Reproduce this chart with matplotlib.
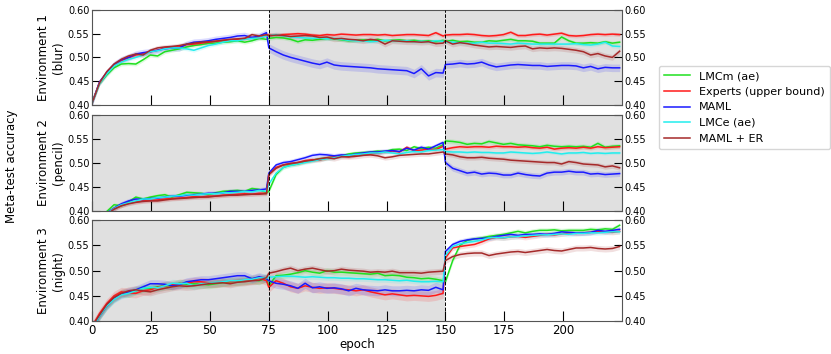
import matplotlib
matplotlib.use("Agg")
import matplotlib.pyplot as plt
import numpy as np

# evaluation epochs: 25 points per 75-epoch phase
seg_len = 25
phase_starts = [0, 75, 150]

series_names = ['LMCm (ae)', 'Experts (upper bound)', 'MAML', 'LMCe (ae)', 'MAML + ER']
series_colors = ['#1fe01f', '#ff1a1a', '#1a1aff', '#22eeee', '#a52a2a']

env_labels = ['Environment 1\n(blur)', 'Environment 2\n(pencil)', 'Environment 3\n(night)']

# ---- Environment 1 (blur) ----
env1_lmcm = [0.405, 0.445, 0.463, 0.478, 0.486, 0.487, 0.486, 0.495, 0.505, 0.503, 0.512, 0.515, 0.518, 0.522, 0.525, 0.527, 0.53, 0.53, 0.532, 0.533, 0.535, 0.532, 0.535, 0.54, 0.538,
             0.54, 0.542, 0.541, 0.538, 0.533, 0.537, 0.536, 0.538, 0.54, 0.539, 0.537, 0.535, 0.536, 0.537, 0.536, 0.538, 0.535, 0.536, 0.537, 0.535, 0.536, 0.534, 0.535, 0.533, 0.536,
             0.534, 0.536, 0.533, 0.534, 0.532, 0.532, 0.535, 0.534, 0.536, 0.538, 0.535, 0.535, 0.534, 0.53, 0.53, 0.53, 0.543, 0.535, 0.53, 0.53, 0.531, 0.53, 0.533, 0.53, 0.532]
env1_expert = [0.405, 0.448, 0.467, 0.483, 0.493, 0.499, 0.505, 0.508, 0.512, 0.515, 0.52, 0.522, 0.522, 0.527, 0.528, 0.53, 0.532, 0.534, 0.536, 0.537, 0.538, 0.54, 0.542, 0.541, 0.546,
               0.548, 0.547, 0.548, 0.549, 0.55, 0.549, 0.547, 0.546, 0.548, 0.547, 0.549, 0.548, 0.547, 0.548, 0.548, 0.547, 0.548, 0.546, 0.547, 0.548, 0.548, 0.547, 0.546, 0.552, 0.545,
               0.547, 0.548, 0.548, 0.549, 0.548, 0.546, 0.545, 0.546, 0.548, 0.553, 0.546, 0.546, 0.548, 0.549, 0.547, 0.549, 0.551, 0.546, 0.545, 0.546, 0.548, 0.549, 0.548, 0.549, 0.548]
env1_maml = [0.405, 0.448, 0.468, 0.485, 0.495, 0.5, 0.507, 0.51, 0.512, 0.515, 0.518, 0.52, 0.52, 0.528, 0.532, 0.533, 0.535, 0.538, 0.54, 0.542, 0.545, 0.546, 0.542, 0.545, 0.552,
             0.52, 0.512, 0.505, 0.5, 0.496, 0.492, 0.488, 0.485, 0.49, 0.484, 0.482, 0.481, 0.48, 0.479, 0.478, 0.476, 0.475, 0.474, 0.473, 0.472, 0.466, 0.476, 0.461, 0.468, 0.467,
             0.485, 0.486, 0.488, 0.486, 0.487, 0.49, 0.484, 0.48, 0.482, 0.484, 0.485, 0.484, 0.483, 0.483, 0.481, 0.482, 0.483, 0.483, 0.482, 0.478, 0.481, 0.476, 0.479, 0.478, 0.478]
env1_lmce = [0.405, 0.445, 0.465, 0.482, 0.49, 0.496, 0.5, 0.505, 0.512, 0.514, 0.518, 0.52, 0.52, 0.518, 0.515, 0.52, 0.525, 0.528, 0.532, 0.535, 0.535, 0.538, 0.54, 0.541, 0.545,
             0.546, 0.548, 0.545, 0.543, 0.542, 0.541, 0.54, 0.541, 0.539, 0.54, 0.538, 0.536, 0.535, 0.535, 0.533, 0.534, 0.536, 0.535, 0.534, 0.535, 0.533, 0.534, 0.533, 0.535, 0.534,
             0.533, 0.532, 0.531, 0.53, 0.53, 0.532, 0.53, 0.53, 0.529, 0.528, 0.53, 0.529, 0.528, 0.528, 0.528, 0.528, 0.528, 0.528, 0.529, 0.527, 0.526, 0.528, 0.532, 0.524, 0.523]
env1_er = [0.405, 0.446, 0.47, 0.486, 0.496, 0.503, 0.507, 0.505, 0.515, 0.52, 0.522, 0.523, 0.525, 0.528, 0.53, 0.532, 0.533, 0.534, 0.536, 0.538, 0.539, 0.54, 0.548, 0.545, 0.548,
           0.545, 0.547, 0.546, 0.544, 0.545, 0.546, 0.545, 0.542, 0.543, 0.539, 0.54, 0.538, 0.537, 0.535, 0.538, 0.536, 0.528, 0.535, 0.534, 0.533, 0.533, 0.532, 0.533, 0.529, 0.53,
           0.535, 0.528, 0.531, 0.529, 0.526, 0.524, 0.522, 0.523, 0.522, 0.521, 0.523, 0.524, 0.518, 0.52, 0.519, 0.52, 0.519, 0.517, 0.515, 0.512, 0.505, 0.508, 0.503, 0.5, 0.513]

# ---- Environment 2 (pencil) ----
env2_lmcm = [0.37, 0.385, 0.398, 0.412, 0.41, 0.418, 0.428, 0.424, 0.428, 0.431, 0.433, 0.428, 0.433, 0.438, 0.437, 0.436, 0.433, 0.437, 0.44, 0.441, 0.442, 0.44, 0.446, 0.444, 0.437,
             0.44, 0.475, 0.49, 0.495, 0.497, 0.502, 0.505, 0.508, 0.51, 0.512, 0.514, 0.518, 0.52, 0.521, 0.522, 0.524, 0.523, 0.527, 0.528, 0.525, 0.533, 0.529, 0.532, 0.53, 0.537,
             0.545, 0.544, 0.542, 0.538, 0.54, 0.539, 0.544, 0.541, 0.538, 0.54, 0.537, 0.536, 0.535, 0.533, 0.536, 0.534, 0.533, 0.534, 0.533, 0.534, 0.532, 0.54, 0.532, 0.534, 0.535]
env2_expert = [0.365, 0.38, 0.393, 0.403, 0.41, 0.415, 0.418, 0.42, 0.421, 0.422, 0.424, 0.425, 0.426, 0.427, 0.429, 0.428, 0.43, 0.43, 0.432, 0.433, 0.434, 0.435, 0.434, 0.436, 0.436,
               0.475, 0.49, 0.495, 0.498, 0.5, 0.504, 0.506, 0.505, 0.51, 0.512, 0.514, 0.512, 0.516, 0.518, 0.518, 0.52, 0.522, 0.524, 0.522, 0.532, 0.525, 0.526, 0.528, 0.527, 0.534,
               0.528, 0.531, 0.533, 0.532, 0.533, 0.533, 0.532, 0.534, 0.533, 0.533, 0.532, 0.533, 0.531, 0.53, 0.532, 0.528, 0.53, 0.531, 0.53, 0.532, 0.53, 0.533, 0.531, 0.532, 0.533]
env2_maml = [0.37, 0.383, 0.395, 0.405, 0.414, 0.42, 0.424, 0.423, 0.425, 0.426, 0.428, 0.43, 0.43, 0.432, 0.433, 0.434, 0.436, 0.436, 0.437, 0.44, 0.44, 0.44, 0.442, 0.443, 0.445,
             0.478, 0.495, 0.5, 0.502, 0.506, 0.51, 0.515, 0.517, 0.516, 0.514, 0.516, 0.515, 0.518, 0.52, 0.522, 0.522, 0.524, 0.525, 0.523, 0.53, 0.526, 0.532, 0.528, 0.535, 0.542,
             0.5, 0.488, 0.483, 0.478, 0.48, 0.476, 0.478, 0.477, 0.474, 0.474, 0.478, 0.475, 0.473, 0.472, 0.478, 0.48, 0.48, 0.482, 0.48, 0.48, 0.476, 0.477, 0.475, 0.476, 0.477]
env2_lmce = [0.367, 0.382, 0.394, 0.404, 0.412, 0.416, 0.42, 0.424, 0.424, 0.427, 0.428, 0.43, 0.431, 0.433, 0.432, 0.434, 0.435, 0.435, 0.437, 0.437, 0.438, 0.44, 0.439, 0.442, 0.44,
             0.455, 0.478, 0.49, 0.494, 0.497, 0.5, 0.503, 0.506, 0.508, 0.51, 0.513, 0.515, 0.517, 0.518, 0.52, 0.52, 0.522, 0.52, 0.518, 0.521, 0.523, 0.522, 0.525, 0.526, 0.527,
             0.523, 0.522, 0.522, 0.521, 0.522, 0.521, 0.521, 0.52, 0.52, 0.522, 0.521, 0.52, 0.519, 0.52, 0.522, 0.52, 0.518, 0.52, 0.52, 0.521, 0.519, 0.52, 0.519, 0.52, 0.52]
env2_er = [0.365, 0.38, 0.392, 0.403, 0.41, 0.414, 0.417, 0.419, 0.42, 0.42, 0.422, 0.424, 0.425, 0.426, 0.427, 0.428, 0.428, 0.43, 0.431, 0.432, 0.432, 0.433, 0.434, 0.434, 0.435,
           0.475, 0.488, 0.495, 0.498, 0.5, 0.503, 0.505, 0.508, 0.51, 0.508, 0.512, 0.512, 0.513, 0.515, 0.516, 0.514, 0.51, 0.512, 0.515, 0.516, 0.517, 0.518, 0.518, 0.52, 0.522,
           0.518, 0.516, 0.512, 0.51, 0.51, 0.511, 0.509, 0.508, 0.507, 0.505, 0.504, 0.503, 0.502, 0.501, 0.5, 0.5, 0.497, 0.502, 0.5, 0.497, 0.496, 0.495, 0.491, 0.493, 0.489]

# ---- Environment 3 (night) ----
env3_lmcm = [0.385, 0.41, 0.43, 0.445, 0.455, 0.455, 0.46, 0.465, 0.465, 0.468, 0.47, 0.47, 0.475, 0.473, 0.474, 0.473, 0.472, 0.474, 0.476, 0.478, 0.478, 0.48, 0.482, 0.48, 0.485,
             0.47, 0.49, 0.491, 0.493, 0.496, 0.5, 0.497, 0.495, 0.5, 0.497, 0.497, 0.496, 0.495, 0.494, 0.493, 0.495, 0.49, 0.491, 0.49, 0.487, 0.486, 0.484, 0.485, 0.483, 0.48,
             0.478, 0.52, 0.55, 0.56, 0.563, 0.565, 0.568, 0.57, 0.572, 0.575, 0.578, 0.575, 0.578, 0.58, 0.58, 0.581, 0.579, 0.58, 0.58, 0.58, 0.582, 0.581, 0.583, 0.582, 0.59]
env3_expert = [0.39, 0.415, 0.435, 0.45, 0.458, 0.456, 0.455, 0.46, 0.462, 0.467, 0.47, 0.472, 0.474, 0.475, 0.478, 0.478, 0.476, 0.476, 0.478, 0.478, 0.48, 0.481, 0.482, 0.485, 0.48,
               0.467, 0.48, 0.475, 0.468, 0.465, 0.47, 0.467, 0.465, 0.466, 0.465, 0.463, 0.462, 0.46, 0.462, 0.458, 0.455, 0.452, 0.454, 0.452, 0.45, 0.451, 0.45, 0.449, 0.451, 0.455,
               0.525, 0.545, 0.548, 0.55, 0.552, 0.557, 0.563, 0.566, 0.565, 0.567, 0.568, 0.566, 0.568, 0.57, 0.572, 0.571, 0.573, 0.575, 0.574, 0.575, 0.576, 0.578, 0.577, 0.576, 0.578]
env3_maml = [0.385, 0.41, 0.43, 0.445, 0.453, 0.458, 0.462, 0.468, 0.474, 0.474, 0.473, 0.47, 0.472, 0.478, 0.48, 0.482, 0.482, 0.484, 0.486, 0.488, 0.49, 0.49, 0.484, 0.488, 0.484,
             0.48, 0.475, 0.473, 0.47, 0.465, 0.475, 0.466, 0.468, 0.465, 0.466, 0.464, 0.46, 0.465, 0.462, 0.461, 0.46, 0.462, 0.46, 0.46, 0.461, 0.46, 0.462, 0.461, 0.467, 0.462,
             0.538, 0.552, 0.558, 0.561, 0.563, 0.564, 0.565, 0.568, 0.57, 0.572, 0.57, 0.572, 0.572, 0.573, 0.572, 0.574, 0.577, 0.576, 0.575, 0.575, 0.576, 0.58, 0.578, 0.58, 0.582]
env3_lmce = [0.385, 0.41, 0.43, 0.443, 0.452, 0.455, 0.46, 0.465, 0.467, 0.466, 0.47, 0.475, 0.474, 0.475, 0.47, 0.474, 0.475, 0.477, 0.478, 0.48, 0.48, 0.482, 0.483, 0.486, 0.485,
             0.487, 0.488, 0.489, 0.489, 0.488, 0.487, 0.488, 0.487, 0.486, 0.486, 0.485, 0.485, 0.484, 0.484, 0.483, 0.482, 0.482, 0.481, 0.48, 0.481, 0.479, 0.478, 0.478, 0.479, 0.478,
             0.53, 0.548, 0.553, 0.556, 0.558, 0.561, 0.565, 0.566, 0.565, 0.567, 0.568, 0.569, 0.57, 0.571, 0.571, 0.572, 0.573, 0.572, 0.574, 0.574, 0.575, 0.575, 0.576, 0.577, 0.577]
env3_er = [0.39, 0.412, 0.433, 0.447, 0.455, 0.46, 0.462, 0.46, 0.458, 0.462, 0.465, 0.468, 0.47, 0.469, 0.47, 0.472, 0.474, 0.475, 0.476, 0.474, 0.477, 0.478, 0.48, 0.481, 0.486,
           0.495, 0.498, 0.502, 0.505, 0.5, 0.503, 0.505, 0.502, 0.499, 0.5, 0.503, 0.501, 0.5, 0.499, 0.497, 0.498, 0.497, 0.499, 0.496, 0.496, 0.496, 0.495, 0.497, 0.498, 0.499,
           0.52, 0.528, 0.532, 0.534, 0.535, 0.535, 0.53, 0.533, 0.535, 0.537, 0.538, 0.536, 0.538, 0.54, 0.542, 0.54, 0.539, 0.542, 0.545, 0.545, 0.546, 0.544, 0.543, 0.544, 0.548]

# std band half-width per phase (one value per 75-epoch phase)
env1_std = [[0.004, 0.004, 0.004], [0.004, 0.004, 0.004], [0.007, 0.009, 0.008], [0.004, 0.004, 0.004], [0.005, 0.006, 0.006]]
env2_std = [[0.004, 0.004, 0.005], [0.004, 0.004, 0.004], [0.005, 0.005, 0.006], [0.004, 0.004, 0.003], [0.004, 0.005, 0.005]]
env3_std = [[0.008, 0.006, 0.005], [0.009, 0.01, 0.005], [0.008, 0.01, 0.005], [0.008, 0.005, 0.005], [0.008, 0.006, 0.006]]

# which phases are shaded grey in each environment
env_shaded = [[False, True, True], [True, False, True], [True, True, False]]

envs = [
    [env1_lmcm, env1_expert, env1_maml, env1_lmce, env1_er],
    [env2_lmcm, env2_expert, env2_maml, env2_lmce, env2_er],
    [env3_lmcm, env3_expert, env3_maml, env3_lmce, env3_er],
]
env_stds = [env1_std, env2_std, env3_std]

epochs = np.concatenate([np.linspace(s, s + 74, seg_len) for s in phase_starts])

fig, axes = plt.subplots(3, 1, figsize=(8.31, 3.54), dpi=100, sharex=True,
                         gridspec_kw={'height_ratios': [97, 98, 103]})
fig.subplots_adjust(left=0.111, right=0.7485, top=0.972, bottom=0.093, hspace=0.1)

for i, ax in enumerate(axes):
    for p, s in enumerate(phase_starts):
        if env_shaded[i][p]:
            ax.axvspan(s, s + 75, color='#e0e0e0', lw=0, zorder=0)
    for vals, std, name, col in zip(envs[i], env_stds[i], series_names, series_colors):
        y = np.array(vals)
        sd = np.repeat(std, seg_len)
        ax.fill_between(epochs, y - sd, y + sd, color=col, alpha=0.15, lw=0, zorder=1)
        ax.plot(epochs, y, color=col, lw=1.1, label=name, zorder=2)
    for s in phase_starts[1:]:
        ax.axvline(s, color='black', ls='--', lw=0.7, zorder=3)
    ax.set_xlim(0, 225)
    ax.set_ylim(0.40, 0.60)
    ax.set_yticks([0.40, 0.45, 0.50, 0.55, 0.60])
    ax.set_xticks([0, 25, 50, 75, 100, 125, 150, 175, 200])
    ax.tick_params(direction='in', length=6, labelsize=7, right=True, labelright=True, pad=2)
    ax.tick_params(axis='x', length=7, labelsize=8.5)
    ax.set_ylabel(env_labels[i], fontsize=8.5, labelpad=2)
    for sp in ax.spines.values():
        sp.set_color('#555555')

axes[-1].set_xlabel('epoch', fontsize=8.5, labelpad=1)
fig.text(0.014, 0.53, 'Meta-test accuracy', rotation=90, va='center', ha='center', fontsize=8.5)

handles, labels = axes[0].get_legend_handles_labels()
fig.legend(handles, labels, loc='upper left', bbox_to_anchor=(0.786, 0.83), fontsize=8,
           frameon=True, handlelength=2.3, borderpad=0.5, labelspacing=0.5)

plt.savefig('out.png', dpi=100)
plt.close()
